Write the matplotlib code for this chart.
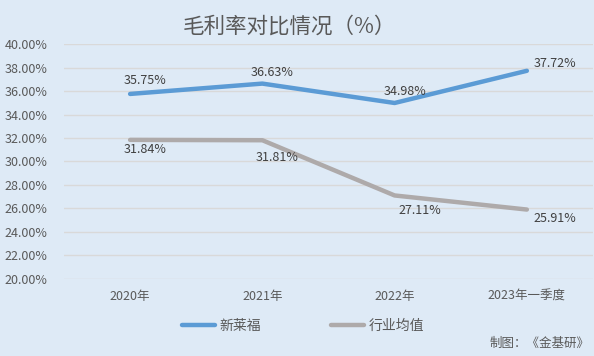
import matplotlib
matplotlib.use("Agg")
import matplotlib.pyplot as plt

plt.rcParams['font.family'] = ['Noto Sans CJK SC', 'DejaVu Sans']

categories = ["2020年", "2021年", "2022年", "2023年一季度"]
xinlaifu = [35.75, 36.63, 34.98, 37.72]
industry = [31.84, 31.81, 27.11, 25.91]
series_names = ["新莱福", "行业均值"]
y_ticks = [20, 22, 24, 26, 28, 30, 32, 34, 36, 38, 40]

bg = "#DEEAF6"
blue = "#5B9BD5"
gray = "#AEAAAA"
txt = "#404040"

fig = plt.figure(figsize=(5.94, 3.56), dpi=100, facecolor=bg)
ax = fig.add_axes([0.1077, 0.2163, 0.8906, 0.6601], facecolor=bg)

x = list(range(len(categories)))
ax.plot(x, xinlaifu, color=blue, lw=3.2, solid_capstyle='round', solid_joinstyle='round', label=series_names[0])
ax.plot(x, industry, color=gray, lw=3.2, solid_capstyle='round', solid_joinstyle='round', label=series_names[1])

blue_off = [(15, 13), (10, 11), (10, 11), (28, 7)]
gray_off = [(15, -10), (15, -17), (25, -15), (28, -9)]
for i, v in enumerate(xinlaifu):
    ax.annotate(f"{v:.2f}%", (x[i], v), xytext=blue_off[i], textcoords='offset pixels',
                ha='center', va='center', fontsize=9, color=txt)
for i, v in enumerate(industry):
    ax.annotate(f"{v:.2f}%", (x[i], v), xytext=gray_off[i], textcoords='offset pixels',
                ha='center', va='center', fontsize=9, color=txt)

ax.set_xlim(-0.5, len(categories) - 0.5)
ax.set_ylim(20, 40)
ax.set_yticks(y_ticks)
ax.set_yticklabels([f"{t:.2f}%" for t in y_ticks])
ax.set_xticks(x)
ax.set_xticklabels(categories)
ax.tick_params(axis='both', length=0, labelsize=9, colors="#595959")
ax.tick_params(axis='y', pad=12)
ax.tick_params(axis='x', pad=8)
ax.grid(axis='y', color="#D9D9D9", lw=1)
ax.set_axisbelow(True)
for s in ax.spines.values():
    s.set_visible(False)

fig.text(0.488, 0.925, "毛利率对比情况（%）", ha='center', va='center', fontsize=15.5, color="#595959")

fig.legend(loc='center', bbox_to_anchor=(0.51, 0.085), ncol=2, frameon=False,
           fontsize=10, handlelength=2.4, handletextpad=0.3, columnspacing=5,
           labelcolor="#595959")

fig.text(0.993, 0.035, "制图：《金基研》", ha='right', va='center', fontsize=9, color="#595959")

fig.savefig("out.png", dpi=100, facecolor=bg)
